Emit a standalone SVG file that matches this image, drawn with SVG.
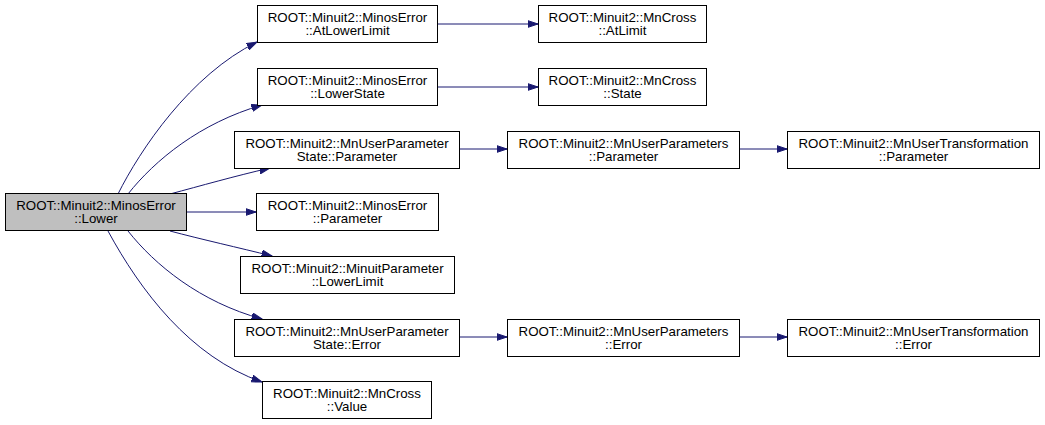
<svg xmlns="http://www.w3.org/2000/svg" width="1045" height="425" viewBox="0 0 1045 425">
<style>
.n rect{fill:#fff;stroke:#000;stroke-width:1}
.n text{font-family:"Liberation Sans",Arial,Helvetica,sans-serif;font-size:13.3px;text-anchor:middle;fill:#000}
#main rect{fill:#bfbfbf}
#edges path{fill:none;stroke:#191970;stroke-width:1;marker-end:url(#ah)}
</style>
<defs>
<marker id="ah" markerWidth="11" markerHeight="8" refX="10.5" refY="4" orient="auto" markerUnits="userSpaceOnUse">
<polygon points="0,0.5 10.5,4 0,7.5" fill="#191970" stroke="#191970" stroke-width="1"/>
</marker>
</defs>
<rect width="1045" height="425" fill="#fff"/>
<g id="edges">
<path d="M118,194 C140,150 190,75 257,42"/>
<path d="M128,194 C155,160 200,123 262,105"/>
<path d="M170,194 C200,186 235,176 270,168"/>
<path d="M186,212 L256,212"/>
<path d="M170,231 C200,239 240,248 272,256"/>
<path d="M128,231 C155,265 200,302 262,319"/>
<path d="M108,231 C140,290 190,357 262,382"/>
<path d="M438,24 L538,24"/>
<path d="M438,87 L538,87"/>
<path d="M460,149 L507,149"/>
<path d="M739,149 L787,149"/>
<path d="M460,337 L507,337"/>
<path d="M739,337 L787,337"/>
</g>
<g id="main" class="n"><rect x="5.5" y="193.5" width="181" height="37"/><text x="96" y="210">ROOT::Minuit2::MinosError</text><text x="96" y="223">::Lower</text></g>
<g id="atlowerlimit" class="n"><rect x="257.5" y="5.5" width="180" height="37"/><text x="347.5" y="22">ROOT::Minuit2::MinosError</text><text x="347.5" y="35">::AtLowerLimit</text></g>
<g id="atlimit" class="n"><rect x="538.5" y="5.5" width="168" height="37"/><text x="622.5" y="22">ROOT::Minuit2::MnCross</text><text x="622.5" y="35">::AtLimit</text></g>
<g id="lowerstate" class="n"><rect x="257.5" y="68.5" width="180" height="37"/><text x="347.5" y="85">ROOT::Minuit2::MinosError</text><text x="347.5" y="98">::LowerState</text></g>
<g id="state" class="n"><rect x="538.5" y="68.5" width="168" height="37"/><text x="622.5" y="85">ROOT::Minuit2::MnCross</text><text x="622.5" y="98">::State</text></g>
<g id="upsparameter" class="n"><rect x="234.5" y="131.5" width="225" height="37"/><text x="347" y="148">ROOT::Minuit2::MnUserParameter</text><text x="347" y="161">State::Parameter</text></g>
<g id="upparameter" class="n"><rect x="507.5" y="131.5" width="232" height="37"/><text x="623.5" y="148">ROOT::Minuit2::MnUserParameters</text><text x="623.5" y="161">::Parameter</text></g>
<g id="utparameter" class="n"><rect x="787.5" y="131.5" width="252" height="37"/><text x="913.5" y="148">ROOT::Minuit2::MnUserTransformation</text><text x="913.5" y="161">::Parameter</text></g>
<g id="meparameter" class="n"><rect x="256.5" y="193.5" width="182" height="37"/><text x="347.5" y="210">ROOT::Minuit2::MinosError</text><text x="347.5" y="223">::Parameter</text></g>
<g id="lowerlimit" class="n"><rect x="240.5" y="256.5" width="214" height="37"/><text x="347.5" y="273">ROOT::Minuit2::MinuitParameter</text><text x="347.5" y="286">::LowerLimit</text></g>
<g id="upserror" class="n"><rect x="234.5" y="319.5" width="225" height="37"/><text x="347" y="336">ROOT::Minuit2::MnUserParameter</text><text x="347" y="349">State::Error</text></g>
<g id="uperror" class="n"><rect x="507.5" y="319.5" width="232" height="37"/><text x="623.5" y="336">ROOT::Minuit2::MnUserParameters</text><text x="623.5" y="349">::Error</text></g>
<g id="uterror" class="n"><rect x="787.5" y="319.5" width="252" height="37"/><text x="913.5" y="336">ROOT::Minuit2::MnUserTransformation</text><text x="913.5" y="349">::Error</text></g>
<g id="value" class="n"><rect x="262.5" y="381.5" width="169" height="37"/><text x="347" y="398">ROOT::Minuit2::MnCross</text><text x="347" y="411">::Value</text></g>
</svg>
